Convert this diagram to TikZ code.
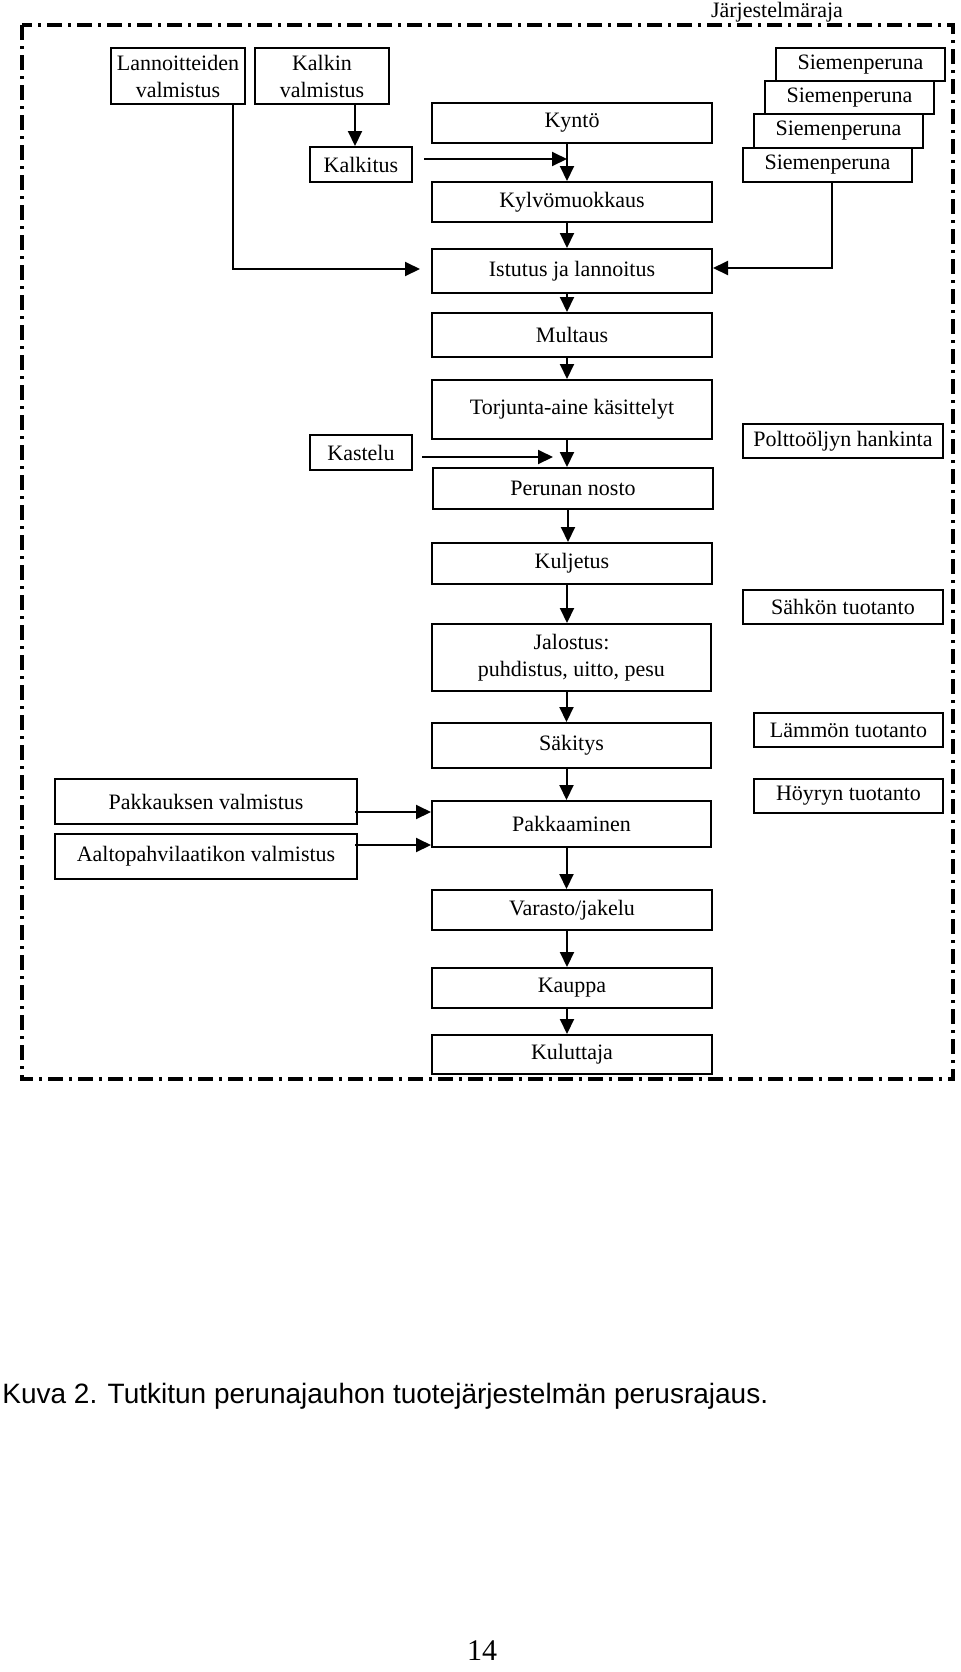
\documentclass[tikz,border=0pt]{standalone}
\usepackage{fontspec}
\setmainfont{Liberation Serif}
\newfontfamily\capfont{Liberation Sans}
\usetikzlibrary{arrows.meta,calc}
\newcommand\bx[6]{\node[bx, minimum width={(#4-#2)*0.5pt}, minimum height={(#5-#3)*0.5pt}] (#1) at ({(#2+#4)/2},{(#3+#5)/2}) {#6};}
\begin{document}
\begin{tikzpicture}[x=0.5pt,y=-0.5pt,
  bx/.style={draw, line width=1pt, inner sep=0pt, align=center, fill=white,
    font=\fontsize{11}{13.5}\selectfont},
  arr/.style={line width=1pt, -{Triangle[width=7pt,length=7.5pt]}},
  border/.style={line width=1.75pt, dash pattern=on 7.5pt off 3pt on 1.5pt off 3pt}]
\useasboundingbox (0,0) rectangle (960,1672);
\fill[white] (0,0) rectangle (960,1672);
% system boundary
\draw[border] (22,25) rectangle (953,1079);
\node[anchor=base, inner sep=0pt, font=\fontsize{11}{13}\selectfont] (jr) at (777,17) {Järjestelmäraja};
% boxes
\bx{lann}{111}{48}{245}{104}{Lannoitteiden\\valmistus}
\bx{kalkin}{255}{48}{389}{104}{Kalkin\\valmistus}
\bx{kalkitus}{310}{147}{412}{182}{Kalkitus}
\bx{kynto}{432}{103}{712}{143}{Kyntö}
\bx{kylvo}{432}{182}{712}{222}{Kylvömuokkaus}
\bx{istutus}{432}{249}{712}{293}{Istutus ja lannoitus}
\bx{siem1}{776}{48}{945}{81}{Siemenperuna}
\bx{siem2}{765}{81}{934}{114}{Siemenperuna}
\bx{siem3}{754}{114}{923}{148}{Siemenperuna}
\bx{siem4}{743}{148}{912}{182}{Siemenperuna}
\bx{multaus}{432}{313}{712}{357}{Multaus}
\bx{torjunta}{432}{380}{712}{439}{Torjunta-aine käsittelyt}
\bx{kastelu}{310}{435}{412}{470}{Kastelu}
\bx{poltto}{743}{424}{943}{458}{Polttoöljyn hankinta}
\bx{nosto}{433}{468}{713}{509}{Perunan nosto}
\bx{kuljetus}{432}{543}{712}{584}{Kuljetus}
\bx{sahko}{743}{590}{943}{624}{Sähkön tuotanto}
\bx{jalostus}{432}{624}{711}{691}{Jalostus:\\puhdistus, uitto, pesu}
\bx{lammon}{754}{713}{943}{747}{Lämmön tuotanto}
\bx{sakitys}{432}{723}{711}{768}{Säkitys}
\bx{hoyry}{754}{779}{943}{813}{Höyryn tuotanto}
\bx{pakkv}{55}{779}{357}{824}{Pakkauksen valmistus}
\bx{aalto}{55}{834}{357}{879}{Aaltopahvilaatikon valmistus}
\bx{pakkaaminen}{432}{801}{711}{847}{Pakkaaminen}
\bx{varasto}{432}{890}{712}{930}{Varasto/jakelu}
\bx{kauppa}{432}{968}{712}{1008}{Kauppa}
\bx{kuluttaja}{432}{1035}{712}{1074}{Kuluttaja}
% main column arrows
\foreach \a/\b in {kynto/kylvo, kylvo/istutus, istutus/multaus, multaus/torjunta,
  torjunta/nosto, nosto/kuljetus, kuljetus/jalostus, jalostus/sakitys,
  sakitys/pakkaaminen, pakkaaminen/varasto, varasto/kauppa, kauppa/kuluttaja}{
  \coordinate (t) at ($(\a.south)+(-5,0)$);
  \draw[arr] (t) -- (t |- \b.north);
}
% side inputs
\coordinate (m1) at ($(kynto.south)+(-5,0)$);
\coordinate (k1) at ($(kalkin.south)+(33,0)$);
\draw[arr] (k1) -- (k1 |- kalkitus.north);
\coordinate (k2) at ($(kalkitus.east)+(11,-5.5)$);
\draw[arr] (k2) -- (k2 -| m1);
\coordinate (l1) at ($(lann.south east)+(-13,0)$);
\coordinate (l2) at ($(istutus.west)+(-11,-2)$);
\draw[arr] (l1) |- (l2);
\coordinate (s1) at ($(siem4.south)+(4.5,0)$);
\coordinate (s2) at ($(istutus.east)+(0,-3)$);
\draw[arr] (s1) |- (s2);
\coordinate (ks) at ($(kastelu.east)+(9,4.5)$);
\coordinate (kt) at (ks -| torjunta.south);
\draw[arr] (ks) -- ($(kt)+(-19,0)$);
\coordinate (p1) at ($(pakkv.east)+(-3,10.5)$);
\draw[arr] (p1) -- (p1 -| pakkaaminen.west);
\coordinate (p2) at ($(aalto.east)+(-3,-11.5)$);
\draw[arr] (p2) -- (p2 -| pakkaaminen.west);
% caption and page number
\node[anchor=base west, inner sep=0pt, font=\capfont\fontsize{14}{16}\selectfont] (cap) at (2,1403) {Kuva 2. Tutkitun perunajauhon tuotejärjestelmän perusrajaus.};
\node[anchor=base, inner sep=0pt, font=\fontsize{15}{17}\selectfont] (pg) at (482,1660) {14};
\end{tikzpicture}
\end{document}
